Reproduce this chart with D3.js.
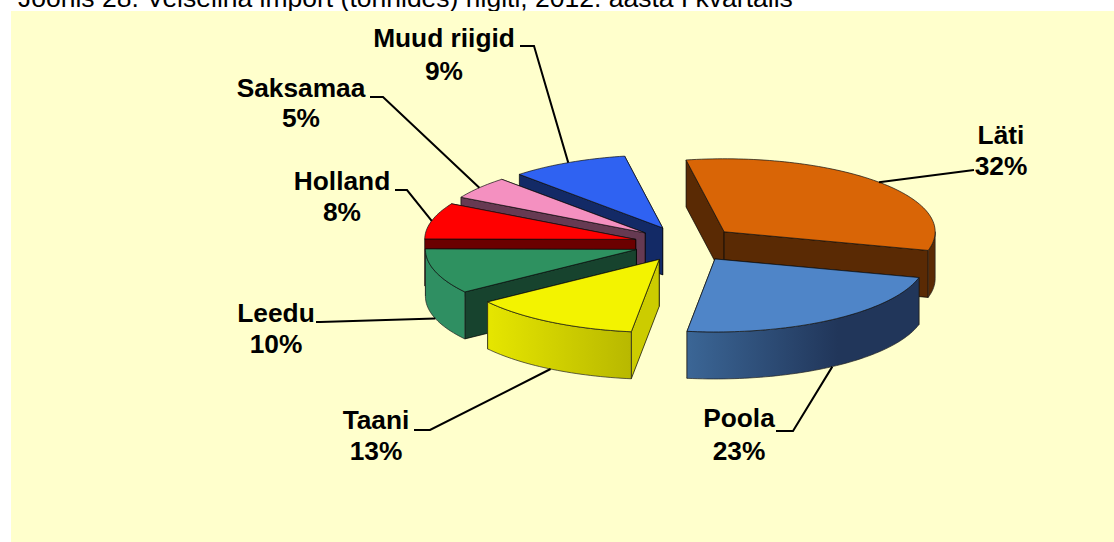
<!DOCTYPE html>
<html>
<head>
<meta charset="utf-8">
<script src="https://cdn.jsdelivr.net/npm/d3@7"></script>
<style>
html,body{margin:0;padding:0;background:#fff;overflow:hidden}
svg{display:block}
text{font-family:"Liberation Sans",Arial,sans-serif}
</style>
</head>
<body>
<script>
// data, clockwise from the start of Läti
var countries = ["Läti","Poola","Taani","Leedu","Holland","Saksamaa","Muud riigid"];
var shares = [32,23,13,10,8,5,9];

// colours per slice
var topColors = ["#d96506","#4f85c8","#f3f300","#2e9160","#ff0000","#f490c0","#2f62f2"];
var wallColors = ["#5a2a04","#223a5c","#cccc00","#17432e","#6b0000","#663a52","#132a66"];
var outerLeft = ["#5a2a04","#3b6696","#e6e600","#2f8f62","#6b0000","#663a52","#132a66"];
var outerRight = ["#5a2a04","#21365a","#b8b800","#2f8f62","#6b0000","#663a52","#132a66"];

// label layout: centre x, two baselines, leader elbow points
var labelX = [1001,739,376,276,342,301,444];
var labelY1 = [144,427,429,322,190,97,47];
var labelY2 = [175,460,460,353,221,127,80];
var leaders = [
  [[974,170]],
  [[793,431],[776,431]],
  [[430,430],[414,430]],
  [[320,322],[316,322]],
  [[407,190],[395,190]],
  [[383,97],[370,97]],
  [[534,46],[520,46]]
];

var width = 1114, height = 542;
var cx = 686, cy = 244, rx = 211, ry = 73, depth = 47, explode = 52;
var startDeg = -10.4;

var svg = d3.select("body").append("svg").attr("width",width).attr("height",height);
var defs = svg.append("defs");

// title sits behind the panel and is cut by the top of the page, as in the source
svg.append("text").attr("x",18).attr("y",7).attr("font-size",26.5).attr("fill","#000")
  .text("Joonis 28. Veiseliha import (tonnides) riigiti, 2012. aasta I kvartalis");

svg.append("rect").attr("x",11).attr("y",11).attr("width",width-11).attr("height",height-11).attr("fill","#ffffcc");

var start = startDeg*Math.PI/180;
var slices = d3.pie().sort(null).startAngle(start).endAngle(start+2*Math.PI)(shares);

var sx = d3.scaleLinear().domain([-1,1]).range([-rx,rx]);
var sy = d3.scaleLinear().domain([-1,1]).range([-ry,ry]);

// apex of a slice after it is pulled out of the pie
function apexOf(d){
  var m = (d.startAngle+d.endAngle)/2;
  return [cx+explode*Math.sin(m), cy-explode*Math.cos(m)*ry/rx];
}
function rim(d,a,drop){
  var p = apexOf(d);
  return [p[0]+sx(Math.sin(a)), p[1]-sy(Math.cos(a))+(drop||0)];
}
function arcPoints(d,a0,a1,drop){
  var n = Math.max(2,Math.ceil((a1-a0)*40));
  return d3.range(n+1).map(function(i){ return rim(d,a0+(a1-a0)*i/n,drop); });
}
var line = d3.line();

function drawSlice(d){
  var i = d.index, g = svg.append("g");
  var p = apexOf(d);
  var pb = [p[0],p[1]+depth];

  // radial walls, the further one first
  var walls = [d.startAngle,d.endAngle].map(function(a){
    return {y:rim(d,a)[1], pts:[p,rim(d,a),rim(d,a,depth),pb]};
  }).sort(function(a,b){ return a.y-b.y; });
  walls.forEach(function(w){
    g.append("path").attr("d",line(w.pts)+"Z").attr("fill",wallColors[i])
      .attr("stroke","#000").attr("stroke-width",0.7).attr("stroke-linejoin","round");
  });

  // outer wall, only the part that faces the viewer
  var a0 = Math.max(d.startAngle,Math.PI/2), a1 = Math.min(d.endAngle,Math.PI*1.5);
  if(a1>a0){
    var id = "outer"+i;
    var upper = arcPoints(d,a0,a1,0), lower = arcPoints(d,a0,a1,depth).reverse();
    var xs = d3.extent(upper,function(q){ return q[0]; });
    var grad = defs.append("linearGradient").attr("id",id).attr("gradientUnits","userSpaceOnUse")
      .attr("x1",xs[0]).attr("x2",xs[1]).attr("y1",0).attr("y2",0);
    grad.append("stop").attr("offset",0).attr("stop-color",outerLeft[i]);
    grad.append("stop").attr("offset",i==1 ? 0.65 : 1).attr("stop-color",outerRight[i]);
    g.append("path").attr("d",line(upper.concat(lower))+"Z").attr("fill","url(#"+id+")")
      .attr("stroke","#222").attr("stroke-width",0.7).attr("stroke-linejoin","round");
  }

  // top face
  var top = [p].concat(arcPoints(d,d.startAngle,d.endAngle,0));
  g.append("path").attr("d",line(top)+"Z").attr("fill",topColors[i])
    .attr("stroke","#111").attr("stroke-width",0.7).attr("stroke-linejoin","round");
}

// painter's order: back slices on the left first, then the two on the right
[6,5,4,3,2,0,1].forEach(function(i){ drawSlice(slices[i]); });

// leaders start on the rim at the middle of each slice
slices.forEach(function(d,i){
  var m = (d.startAngle+d.endAngle)/2;
  var s = rim(d,m,(Math.cos(m)<0 || i==3) ? depth : 0);
  svg.append("path").attr("d",line([s].concat(leaders[i])))
    .attr("fill","none").attr("stroke","#000").attr("stroke-width",2);
});

countries.forEach(function(name,i){
  var t = svg.append("g").attr("font-size",26.3).attr("font-weight","bold").attr("text-anchor","middle").attr("fill","#000");
  t.append("text").attr("x",labelX[i]).attr("y",labelY1[i]).text(name);
  t.append("text").attr("x",labelX[i]).attr("y",labelY2[i]).text(shares[i]+"%");
});
</script>
</body>
</html>
